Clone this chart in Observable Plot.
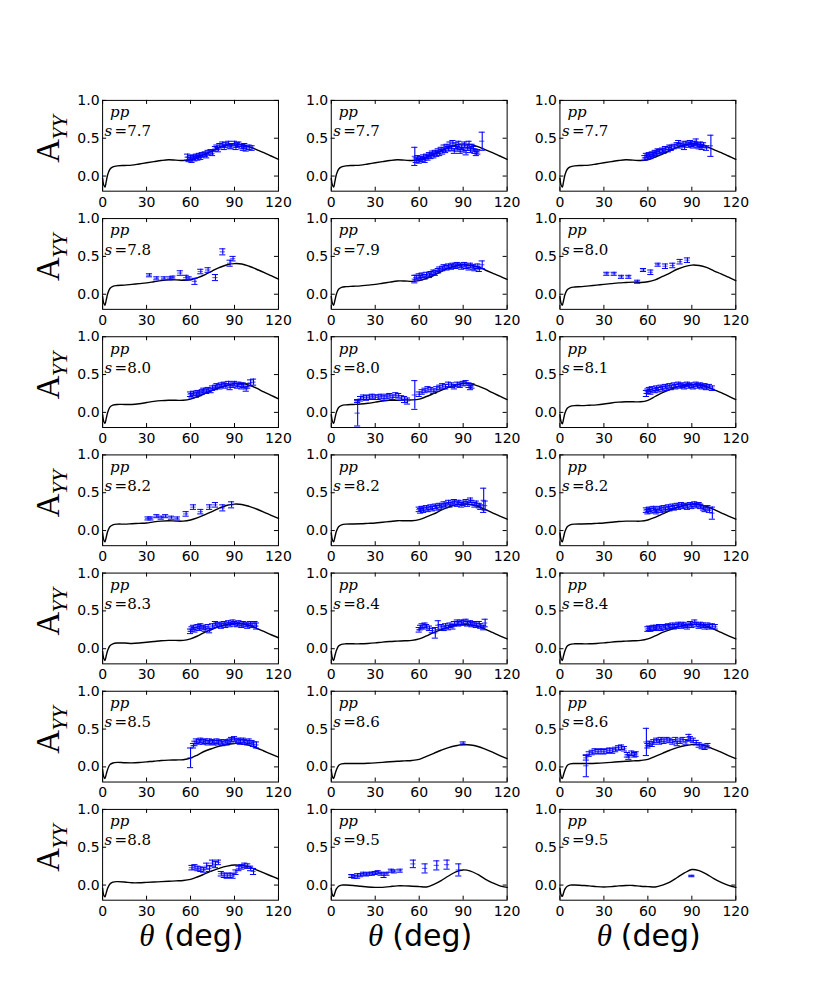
<!DOCTYPE html>
<html><head><meta charset="utf-8">
<script src="https://cdn.jsdelivr.net/npm/d3@7"></script>
<script src="https://cdn.jsdelivr.net/npm/@observablehq/plot@0.6"></script>
<style>body{margin:0;background:#fff;overflow:hidden}</style>
</head><body><div id="chart"></div>
<script>
// ---- data ----
const energies = ["7.7","7.7","7.7","7.8","7.9","8.0","8.0","8.0","8.1","8.2","8.2","8.2","8.3","8.4","8.4","8.5","8.6","8.6","8.8","9.5","9.5"];
const xTicks = [0, 30, 60, 90, 120];
const yTicks = [0.0, 0.5, 1.0];
const curveAngles = [0,0.8,1.6,2.5,3.5,5,7,10,15,20,25,30,35,40,45,50,55,60,65,70,75,80,85,90,95,100,105,110,115,120];

const c01 = [-0.03,-0.12,-0.145,-0.07,0.02,0.09,0.12,0.135,0.14,0.145,0.16,0.175,0.19,0.205,0.215,0.21,0.205,0.215,0.25,0.29,0.335,0.38,0.41,0.425,0.415,0.39,0.35,0.31,0.265,0.22];
const c02 = [-0.03,-0.12,-0.145,-0.07,0.02,0.09,0.12,0.135,0.14,0.145,0.16,0.175,0.19,0.205,0.215,0.21,0.205,0.215,0.25,0.29,0.335,0.38,0.41,0.425,0.415,0.39,0.35,0.31,0.265,0.22];
const c03 = [-0.03,-0.12,-0.145,-0.07,0.02,0.09,0.12,0.135,0.14,0.145,0.16,0.175,0.19,0.205,0.215,0.21,0.205,0.215,0.25,0.29,0.335,0.38,0.41,0.425,0.42,0.39,0.35,0.31,0.265,0.22];
const c04 = [-0.03,-0.12,-0.145,-0.075,0.01,0.075,0.105,0.115,0.12,0.13,0.14,0.15,0.165,0.18,0.19,0.19,0.185,0.19,0.22,0.26,0.31,0.355,0.39,0.405,0.40,0.37,0.33,0.29,0.245,0.20];
const c05 = [-0.03,-0.12,-0.145,-0.08,0.0,0.065,0.09,0.10,0.105,0.11,0.12,0.13,0.145,0.16,0.175,0.175,0.17,0.18,0.21,0.25,0.30,0.345,0.375,0.39,0.385,0.36,0.32,0.28,0.24,0.195];
const c06 = [-0.03,-0.12,-0.145,-0.08,0.0,0.06,0.085,0.095,0.10,0.11,0.12,0.13,0.14,0.15,0.155,0.16,0.155,0.165,0.19,0.235,0.28,0.33,0.365,0.385,0.38,0.355,0.31,0.27,0.225,0.18];
const c07 = [-0.03,-0.12,-0.145,-0.08,0.0,0.07,0.095,0.105,0.105,0.105,0.115,0.13,0.145,0.155,0.16,0.16,0.16,0.175,0.21,0.25,0.29,0.33,0.36,0.38,0.385,0.36,0.32,0.27,0.225,0.18];
const c08 = [-0.03,-0.12,-0.145,-0.08,0.0,0.065,0.09,0.10,0.105,0.11,0.12,0.135,0.15,0.16,0.16,0.165,0.165,0.175,0.21,0.25,0.29,0.33,0.36,0.385,0.38,0.35,0.31,0.26,0.215,0.17];
const c09 = [-0.03,-0.125,-0.15,-0.085,-0.005,0.055,0.08,0.09,0.09,0.095,0.10,0.11,0.125,0.135,0.14,0.14,0.14,0.16,0.21,0.26,0.30,0.335,0.355,0.365,0.36,0.34,0.30,0.26,0.215,0.17];
const c10 = [-0.03,-0.125,-0.15,-0.085,-0.01,0.05,0.075,0.085,0.085,0.09,0.095,0.10,0.115,0.125,0.13,0.125,0.125,0.14,0.17,0.21,0.255,0.30,0.335,0.35,0.345,0.32,0.285,0.245,0.20,0.16];
const c11 = [-0.03,-0.125,-0.15,-0.085,-0.01,0.05,0.075,0.085,0.087,0.09,0.095,0.10,0.11,0.12,0.13,0.13,0.13,0.145,0.18,0.22,0.27,0.31,0.34,0.35,0.345,0.32,0.28,0.235,0.19,0.15];
const c12 = [-0.03,-0.125,-0.15,-0.085,-0.01,0.05,0.075,0.085,0.087,0.09,0.095,0.10,0.11,0.12,0.125,0.125,0.125,0.14,0.175,0.22,0.265,0.305,0.335,0.35,0.345,0.32,0.28,0.235,0.19,0.15];
const c13 = [-0.035,-0.13,-0.155,-0.09,-0.02,0.04,0.065,0.075,0.075,0.07,0.075,0.085,0.095,0.105,0.11,0.11,0.11,0.13,0.17,0.22,0.26,0.295,0.32,0.335,0.33,0.31,0.27,0.23,0.185,0.145];
const c14 = [-0.035,-0.13,-0.155,-0.09,-0.025,0.035,0.058,0.065,0.065,0.065,0.07,0.078,0.088,0.095,0.10,0.105,0.11,0.13,0.17,0.215,0.25,0.285,0.31,0.32,0.315,0.295,0.26,0.215,0.17,0.13];
const c15 = [-0.035,-0.13,-0.155,-0.09,-0.025,0.035,0.058,0.065,0.065,0.065,0.07,0.078,0.088,0.095,0.10,0.105,0.11,0.13,0.17,0.215,0.25,0.285,0.31,0.32,0.318,0.298,0.26,0.215,0.17,0.13];
const c16 = [-0.035,-0.13,-0.155,-0.095,-0.03,0.03,0.052,0.06,0.055,0.053,0.058,0.067,0.075,0.085,0.09,0.092,0.095,0.115,0.16,0.21,0.245,0.275,0.295,0.31,0.305,0.285,0.25,0.21,0.17,0.13];
const c17 = [-0.035,-0.13,-0.155,-0.1,-0.04,0.02,0.04,0.045,0.045,0.045,0.048,0.053,0.06,0.068,0.075,0.08,0.085,0.10,0.14,0.18,0.22,0.255,0.28,0.295,0.29,0.27,0.235,0.195,0.15,0.11];
const c18 = [-0.035,-0.13,-0.155,-0.1,-0.04,0.02,0.04,0.045,0.045,0.045,0.048,0.053,0.06,0.068,0.075,0.08,0.085,0.10,0.14,0.18,0.22,0.255,0.28,0.295,0.295,0.275,0.235,0.195,0.15,0.11];
const c19 = [-0.04,-0.135,-0.155,-0.1,-0.04,0.015,0.04,0.045,0.04,0.03,0.03,0.035,0.04,0.045,0.05,0.055,0.06,0.075,0.11,0.15,0.19,0.225,0.25,0.265,0.26,0.24,0.20,0.16,0.12,0.08];
const c20 = [-0.04,-0.13,-0.15,-0.1,-0.05,-0.015,0.0,0.0,-0.005,-0.015,-0.025,-0.03,-0.03,-0.02,-0.01,-0.01,-0.015,-0.02,-0.025,0.01,0.06,0.12,0.175,0.20,0.185,0.14,0.08,0.03,-0.01,-0.03];
const c21 = [-0.04,-0.13,-0.15,-0.1,-0.05,-0.015,0.0,0.0,-0.005,-0.01,-0.02,-0.025,-0.02,-0.01,-0.005,-0.005,-0.015,-0.02,-0.025,0.0,0.04,0.10,0.16,0.205,0.19,0.145,0.085,0.035,-0.005,-0.03];

// measured points: [theta, A_YY, error]
const p01 = [[58,0.25,0.04],[59,0.22,0.03],[60,0.24,0.03],[61,0.21,0.03],[62,0.25,0.03],[63,0.23,0.03],[64,0.26,0.03],[65,0.24,0.03],[66,0.27,0.03],[67,0.25,0.03],[68,0.28,0.03],[70,0.29,0.03],[71,0.27,0.03],[72,0.31,0.03],[74,0.32,0.03],[75,0.30,0.03],[77,0.36,0.03],[78,0.38,0.03],[79,0.35,0.03],[80,0.40,0.03],[82,0.42,0.03],[83,0.38,0.03],[84,0.41,0.03],[86,0.43,0.03],[87,0.39,0.03],[88,0.40,0.03],[90,0.43,0.03],[91,0.38,0.03],[92,0.41,0.03],[93,0.42,0.03],[95,0.39,0.03],[96,0.37,0.03],[97,0.40,0.03],[98,0.36,0.03],[100,0.38,0.03],[102,0.37,0.03]];
const p02 = [[57,0.26,0.12],[58,0.21,0.03],[59,0.24,0.03],[60,0.20,0.03],[61,0.23,0.03],[62,0.22,0.03],[63,0.25,0.03],[64,0.21,0.03],[65,0.26,0.03],[66,0.24,0.03],[67,0.28,0.03],[68,0.26,0.03],[69,0.30,0.03],[70,0.27,0.03],[71,0.31,0.03],[72,0.29,0.03],[73,0.33,0.03],[74,0.30,0.03],[75,0.35,0.03],[76,0.32,0.03],[77,0.37,0.04],[78,0.34,0.03],[79,0.39,0.03],[80,0.36,0.03],[81,0.41,0.04],[82,0.37,0.03],[83,0.43,0.04],[84,0.33,0.03],[85,0.40,0.04],[86,0.36,0.03],[87,0.42,0.04],[88,0.33,0.03],[89,0.38,0.03],[90,0.35,0.03],[91,0.41,0.04],[92,0.31,0.03],[93,0.37,0.03],[94,0.42,0.04],[95,0.34,0.03],[96,0.39,0.03],[97,0.36,0.03],[98,0.33,0.03],[99,0.30,0.03],[100,0.32,0.03],[103,0.46,0.12]];
const p03 = [[58,0.24,0.03],[59,0.27,0.03],[60,0.25,0.03],[61,0.28,0.03],[62,0.26,0.03],[63,0.29,0.03],[64,0.28,0.03],[65,0.31,0.03],[66,0.30,0.03],[67,0.33,0.03],[68,0.32,0.03],[70,0.34,0.03],[71,0.33,0.03],[72,0.36,0.03],[74,0.35,0.03],[75,0.38,0.03],[76,0.37,0.03],[78,0.39,0.03],[80,0.41,0.03],[81,0.44,0.03],[82,0.40,0.03],[84,0.42,0.03],[85,0.38,0.03],[86,0.43,0.03],[88,0.41,0.03],[89,0.44,0.03],[90,0.42,0.03],[91,0.40,0.03],[92,0.43,0.03],[93,0.45,0.04],[94,0.41,0.03],[95,0.39,0.03],[96,0.42,0.03],[97,0.38,0.03],[98,0.41,0.03],[100,0.37,0.03],[103,0.40,0.14]];
const p04 = [[32,0.25,0.02],[37,0.21,0.02],[42,0.21,0.02],[46,0.21,0.02],[48,0.22,0.02],[53,0.28,0.03],[57,0.22,0.03],[59,0.21,0.02],[63,0.17,0.04],[67,0.30,0.03],[72,0.32,0.03],[77,0.22,0.04],[82,0.56,0.04],[87,0.41,0.04],[89,0.47,0.03]];
const p05 = [[57,0.20,0.05],[58,0.22,0.03],[60,0.24,0.03],[61,0.22,0.03],[62,0.25,0.03],[64,0.23,0.03],[65,0.26,0.03],[67,0.25,0.03],[68,0.27,0.03],[70,0.29,0.03],[71,0.28,0.03],[73,0.31,0.03],[74,0.33,0.03],[76,0.34,0.03],[77,0.36,0.03],[79,0.35,0.03],[80,0.37,0.03],[82,0.36,0.03],[83,0.38,0.03],[85,0.37,0.03],[86,0.39,0.03],[88,0.38,0.03],[89,0.36,0.03],[91,0.39,0.03],[92,0.37,0.03],[94,0.35,0.03],[95,0.38,0.03],[97,0.36,0.03],[98,0.34,0.03],[100,0.37,0.03],[101,0.33,0.03],[103,0.39,0.05]];
const p06 = [[32,0.27,0.02],[37,0.27,0.02],[42,0.23,0.02],[47,0.23,0.02],[53,0.165,0.02],[57,0.32,0.02],[62,0.29,0.03],[67,0.39,0.02],[72,0.37,0.03],[77,0.38,0.03],[82,0.43,0.03],[87,0.45,0.03]];
const p07 = [[60,0.24,0.03],[61,0.22,0.03],[62,0.25,0.03],[64,0.23,0.03],[65,0.26,0.03],[66,0.25,0.03],[68,0.27,0.03],[69,0.29,0.03],[71,0.28,0.03],[72,0.30,0.03],[74,0.29,0.03],[75,0.32,0.03],[77,0.33,0.03],[78,0.35,0.03],[80,0.34,0.03],[81,0.36,0.03],[83,0.37,0.03],[84,0.35,0.03],[86,0.38,0.03],[87,0.33,0.03],[89,0.36,0.03],[90,0.38,0.03],[92,0.35,0.03],[93,0.37,0.03],[95,0.34,0.03],[96,0.36,0.03],[98,0.31,0.03],[99,0.35,0.03],[101,0.39,0.04],[103,0.40,0.04]];
const p08 = [[18,0.15,0.02],[18,-0.01,0.17],[20,0.18,0.03],[22,0.20,0.03],[24,0.19,0.03],[26,0.20,0.03],[28,0.21,0.03],[30,0.20,0.03],[32,0.20,0.03],[34,0.21,0.03],[36,0.19,0.03],[38,0.21,0.03],[40,0.22,0.03],[42,0.20,0.03],[44,0.23,0.03],[46,0.22,0.03],[48,0.19,0.03],[50,0.17,0.04],[52,0.15,0.04],[57,0.23,0.19],[60,0.24,0.03],[62,0.27,0.03],[64,0.29,0.03],[66,0.31,0.03],[68,0.30,0.03],[70,0.28,0.03],[72,0.31,0.03],[74,0.33,0.03],[76,0.35,0.03],[78,0.34,0.03],[80,0.37,0.03],[82,0.36,0.03],[84,0.34,0.03],[86,0.37,0.03],[88,0.36,0.03],[90,0.38,0.03],[92,0.39,0.03],[94,0.36,0.03],[95,0.33,0.03],[96,0.35,0.03]];
const p09 = [[59,0.25,0.04],[60,0.28,0.03],[61,0.30,0.03],[62,0.27,0.03],[63,0.31,0.03],[65,0.29,0.03],[66,0.32,0.03],[67,0.30,0.03],[69,0.33,0.03],[70,0.31,0.03],[72,0.34,0.03],[73,0.32,0.03],[75,0.35,0.03],[76,0.33,0.03],[78,0.36,0.03],[79,0.34,0.03],[81,0.37,0.03],[82,0.35,0.03],[84,0.36,0.03],[85,0.34,0.03],[87,0.37,0.03],[88,0.35,0.03],[90,0.36,0.03],[91,0.34,0.03],[93,0.37,0.03],[94,0.35,0.03],[96,0.36,0.03],[97,0.34,0.03],[99,0.35,0.03],[100,0.33,0.03],[102,0.34,0.03],[104,0.32,0.03]];
const p10 = [[31,0.16,0.02],[33,0.16,0.02],[37,0.19,0.02],[40,0.17,0.02],[43,0.19,0.02],[47,0.17,0.02],[51,0.16,0.02],[57,0.22,0.03],[62,0.31,0.03],[67,0.25,0.03],[73,0.31,0.03],[77,0.34,0.03],[82,0.30,0.04],[88,0.34,0.04]];
const p11 = [[60,0.28,0.03],[61,0.26,0.03],[62,0.29,0.03],[63,0.27,0.03],[65,0.30,0.03],[66,0.28,0.03],[68,0.31,0.03],[69,0.29,0.03],[71,0.32,0.03],[72,0.30,0.03],[74,0.33,0.03],[75,0.31,0.03],[77,0.35,0.03],[78,0.33,0.03],[80,0.37,0.03],[81,0.34,0.03],[83,0.36,0.03],[84,0.38,0.03],[86,0.35,0.03],[87,0.37,0.03],[89,0.34,0.03],[90,0.36,0.03],[92,0.38,0.03],[93,0.35,0.03],[95,0.40,0.03],[96,0.37,0.03],[98,0.34,0.03],[99,0.36,0.03],[101,0.33,0.03],[102,0.31,0.03],[104,0.40,0.16],[105,0.33,0.06]];
const p12 = [[59,0.27,0.03],[60,0.25,0.03],[61,0.28,0.03],[62,0.26,0.03],[64,0.29,0.03],[65,0.27,0.03],[66,0.25,0.03],[68,0.29,0.03],[69,0.27,0.03],[71,0.30,0.03],[72,0.28,0.03],[74,0.31,0.03],[75,0.29,0.03],[77,0.32,0.03],[78,0.30,0.03],[80,0.33,0.03],[81,0.31,0.03],[83,0.34,0.03],[84,0.32,0.03],[86,0.33,0.03],[87,0.31,0.03],[89,0.34,0.03],[90,0.32,0.03],[92,0.35,0.03],[93,0.33,0.03],[95,0.34,0.03],[96,0.32,0.03],[98,0.30,0.03],[99,0.28,0.03],[101,0.30,0.03],[102,0.27,0.03],[104,0.23,0.08]];
const p13 = [[60,0.23,0.03],[61,0.26,0.03],[62,0.28,0.03],[63,0.25,0.03],[65,0.29,0.03],[66,0.27,0.03],[67,0.30,0.03],[69,0.28,0.03],[70,0.26,0.03],[72,0.29,0.03],[73,0.24,0.03],[75,0.30,0.03],[77,0.33,0.03],[78,0.31,0.03],[80,0.32,0.03],[81,0.30,0.03],[83,0.33,0.03],[84,0.31,0.03],[86,0.34,0.03],[87,0.32,0.03],[89,0.35,0.03],[90,0.33,0.03],[92,0.32,0.03],[93,0.34,0.03],[95,0.31,0.03],[96,0.33,0.03],[98,0.32,0.03],[99,0.30,0.03],[101,0.33,0.03],[102,0.31,0.03],[104,0.33,0.03],[105,0.30,0.04]];
const p14 = [[60,0.25,0.03],[61,0.28,0.03],[62,0.30,0.03],[64,0.31,0.03],[65,0.29,0.03],[67,0.27,0.03],[69,0.24,0.03],[71,0.21,0.07],[73,0.31,0.06],[75,0.29,0.03],[77,0.27,0.03],[78,0.30,0.03],[80,0.28,0.03],[81,0.31,0.03],[83,0.29,0.03],[84,0.33,0.03],[86,0.35,0.03],[87,0.33,0.03],[89,0.35,0.03],[90,0.34,0.03],[92,0.36,0.03],[93,0.33,0.03],[95,0.34,0.03],[96,0.32,0.03],[98,0.33,0.03],[99,0.31,0.03],[101,0.33,0.03],[102,0.30,0.03],[104,0.28,0.03],[105,0.34,0.05]];
const p15 = [[60,0.26,0.03],[61,0.27,0.03],[62,0.26,0.03],[64,0.28,0.03],[65,0.27,0.03],[66,0.28,0.03],[68,0.29,0.03],[69,0.27,0.03],[71,0.29,0.03],[72,0.28,0.03],[74,0.30,0.03],[75,0.29,0.03],[77,0.31,0.03],[78,0.29,0.03],[80,0.30,0.03],[81,0.32,0.03],[83,0.30,0.03],[84,0.32,0.03],[86,0.31,0.03],[87,0.29,0.03],[89,0.33,0.03],[90,0.31,0.03],[92,0.35,0.03],[93,0.32,0.03],[95,0.30,0.03],[96,0.32,0.03],[98,0.31,0.03],[99,0.29,0.03],[101,0.31,0.03],[102,0.29,0.03],[104,0.30,0.03],[106,0.29,0.03]];
const p16 = [[60,0.12,0.13],[62,0.28,0.03],[63,0.31,0.03],[64,0.34,0.03],[66,0.33,0.03],[67,0.35,0.03],[69,0.33,0.03],[70,0.34,0.03],[72,0.32,0.03],[73,0.34,0.03],[75,0.33,0.03],[76,0.32,0.03],[78,0.34,0.03],[79,0.32,0.03],[81,0.33,0.03],[82,0.31,0.03],[84,0.33,0.03],[85,0.32,0.03],[87,0.34,0.03],[88,0.36,0.03],[90,0.37,0.03],[91,0.34,0.03],[93,0.35,0.03],[94,0.33,0.03],[96,0.35,0.03],[97,0.33,0.03],[99,0.32,0.03],[100,0.34,0.03],[102,0.32,0.03],[103,0.30,0.03],[105,0.29,0.04]];
const p17 = [[90,0.31,0.02]];
const p18 = [[18,0.12,0.03],[18,0.015,0.145],[20,0.17,0.03],[22,0.19,0.03],[24,0.21,0.03],[26,0.20,0.03],[28,0.21,0.03],[30,0.20,0.03],[32,0.21,0.03],[34,0.22,0.03],[36,0.21,0.03],[38,0.23,0.03],[40,0.25,0.03],[42,0.26,0.03],[44,0.24,0.03],[46,0.16,0.03],[47,0.13,0.03],[49,0.18,0.03],[51,0.16,0.03],[52,0.17,0.03],[59,0.33,0.18],[60,0.28,0.03],[61,0.31,0.03],[63,0.30,0.03],[64,0.33,0.03],[66,0.35,0.03],[68,0.33,0.03],[69,0.36,0.03],[71,0.34,0.03],[73,0.36,0.03],[75,0.35,0.03],[77,0.33,0.03],[79,0.36,0.03],[80,0.31,0.03],[82,0.34,0.03],[84,0.36,0.03],[86,0.33,0.03],[88,0.39,0.04],[89,0.37,0.03],[91,0.35,0.03],[93,0.32,0.03],[95,0.29,0.03],[97,0.27,0.03],[99,0.26,0.03],[101,0.28,0.03]];
const p19 = [[61,0.23,0.03],[63,0.24,0.03],[65,0.22,0.03],[67,0.21,0.03],[69,0.20,0.03],[71,0.25,0.04],[73,0.22,0.04],[75,0.29,0.04],[77,0.27,0.04],[79,0.30,0.03],[81,0.15,0.03],[83,0.13,0.03],[85,0.12,0.03],[87,0.13,0.03],[89,0.12,0.03],[91,0.17,0.03],[93,0.22,0.03],[95,0.24,0.03],[97,0.26,0.03],[99,0.25,0.03],[101,0.22,0.03],[103,0.18,0.04]];
const p20 = [[14,0.12,0.02],[16,0.11,0.02],[18,0.12,0.03],[20,0.13,0.02],[22,0.15,0.02],[24,0.14,0.02],[26,0.15,0.02],[28,0.15,0.02],[30,0.16,0.02],[32,0.17,0.02],[34,0.15,0.02],[36,0.13,0.03],[38,0.15,0.02],[41,0.19,0.02],[43,0.18,0.02],[47,0.19,0.02],[56,0.28,0.05],[64,0.22,0.06],[72,0.26,0.06],[79,0.27,0.06],[87,0.20,0.08]];
const p21 = [[90,0.12,0.01]];

const curves = [c01,c02,c03,c04,c05,c06,c07,c08,c09,c10,c11,c12,c13,c14,c15,c16,c17,c18,c19,c20,c21];
const points = [p01,p02,p03,p04,p05,p06,p07,p08,p09,p10,p11,p12,p13,p14,p15,p16,p17,p18,p19,p20,p21];

// ---- tables for Plot ----
const panels = energies.map((s, i) => ({i, s, row: Math.floor(i / 3), col: i % 3}));
const curveRows = panels.flatMap(p => curveAngles.map((t, k) => ({t, v: curves[p.i][k], row: p.row, col: p.col, id: p.i})));
const pointRows = panels.flatMap(p => points[p.i].map(([t, v, e]) => ({t, v, e, row: p.row, col: p.col})));
const yLabelRows = d3.range(7).map(r => ({row: r, col: 0}));
const xLabelCols = [0, 1, 2].map(c => ({row: 6, col: c}));

const tly = 4 * 1.2 / 90.8;   // 4px inward tick in y units
const tlx = 4 * 120 / 175.9;  // 4px inward tick in x units
const cap = 2.1, xe = 1.8;
const blue = "#0000ff";
const tickFont = {fontFamily: "DejaVu Sans", fontSize: 14, fill: "black"};
const serif = "Liberation Serif";
const labelSerif = "DejaVu Serif";

const chart = Plot.plot({
  width: 817, height: 999,
  marginLeft: 102.1, marginRight: 81.7, marginTop: 99.9, marginBottom: 99.3,
  style: {background: "white", overflow: "visible"},
  fx: {domain: [0, 1, 2], axis: null, paddingInner: 0.2309, paddingOuter: 0, round: false},
  fy: {domain: d3.range(7), axis: null, paddingInner: 0.2318, paddingOuter: 0, round: false},
  x: {domain: [0, 120], axis: null},
  y: {domain: [-0.2, 1.0], axis: null},
  marks: [
    Plot.line(curveRows, {x: "t", y: "v", fx: "col", fy: "row", z: "id", curve: "catmull-rom", stroke: "black", strokeWidth: 1.4}),
    Plot.ruleX(pointRows, {x: "t", y1: d => d.v - d.e, y2: d => d.v + d.e, fx: "col", fy: "row", stroke: blue, strokeWidth: 1.1}),
    Plot.ruleY(pointRows, {y: d => d.v + d.e, x1: d => d.t - cap, x2: d => d.t + cap, fx: "col", fy: "row", stroke: blue, strokeWidth: 1}),
    Plot.ruleY(pointRows, {y: d => d.v - d.e, x1: d => d.t - cap, x2: d => d.t + cap, fx: "col", fy: "row", stroke: blue, strokeWidth: 1}),
    Plot.ruleY(pointRows, {y: "v", x1: d => d.t - xe, x2: d => d.t + xe, fx: "col", fy: "row", stroke: blue, strokeWidth: 1.2, strokeOpacity: 0.6}),
    Plot.frame({stroke: "black", strokeWidth: 1}),
    Plot.ruleX(xTicks, {x: d => d, y1: -0.2, y2: -0.2 + tly, stroke: "black"}),
    Plot.ruleX(xTicks, {x: d => d, y1: 1.0, y2: 1.0 - tly, stroke: "black"}),
    Plot.ruleY(yTicks, {y: d => d, x1: 0, x2: tlx, stroke: "black"}),
    Plot.ruleY(yTicks, {y: d => d, x1: 120, x2: 120 - tlx, stroke: "black"}),
    Plot.text(xTicks, {x: d => d, y: -0.2, dy: 5.5, lineAnchor: "top", text: d => String(d), ...tickFont}),
    Plot.text(yTicks, {x: 0, y: d => d, dx: -3, textAnchor: "end", lineAnchor: "middle", text: d => d.toFixed(1), ...tickFont}),
    Plot.text(panels, {fx: "col", fy: "row", frameAnchor: "top-left", dx: 7.5, dy: 16.8, lineAnchor: "bottom", textAnchor: "start", text: () => "pp", fontStyle: "italic", fontFamily: labelSerif, fontSize: 15, fill: "black"}),
    Plot.text(panels, {fx: "col", fy: "row", frameAnchor: "top-left", dx: 2, dy: 36, lineAnchor: "bottom", textAnchor: "start", text: () => "s", fontStyle: "italic", fontFamily: labelSerif, fontSize: 15, fill: "black"}),
    Plot.text(panels, {fx: "col", fy: "row", frameAnchor: "top-left", dx: 12, dy: 36, lineAnchor: "bottom", textAnchor: "start", text: d => "=" + d.s, fontFamily: labelSerif, fontSize: 15, fill: "black"}),
    Plot.text(yLabelRows, {fx: "col", fy: "row", frameAnchor: "left", dx: -43.5, dy: 17, rotate: -90, textAnchor: "start", lineAnchor: "bottom", text: () => "A", fontFamily: serif, fontSize: 33, fill: "black"}),
    Plot.text(yLabelRows, {fx: "col", fy: "row", frameAnchor: "left", dx: -36, dy: -6, rotate: -90, textAnchor: "start", lineAnchor: "bottom", text: () => "YY", fontStyle: "italic", fontFamily: serif, fontSize: 22, fill: "black"}),
    Plot.text(xLabelCols, {fx: "col", fy: "row", frameAnchor: "bottom", dx: -36, dy: 46, textAnchor: "end", lineAnchor: "bottom", text: () => "θ", fontStyle: "italic", fontFamily: serif, fontSize: 31, fill: "black"}),
    Plot.text(xLabelCols, {fx: "col", fy: "row", frameAnchor: "bottom", dx: -27, dy: 46, textAnchor: "start", lineAnchor: "bottom", text: () => "(deg)", fontFamily: "DejaVu Sans", fontSize: 30, fill: "black"})
  ]
});
document.getElementById("chart").append(chart);
</script></body></html>
